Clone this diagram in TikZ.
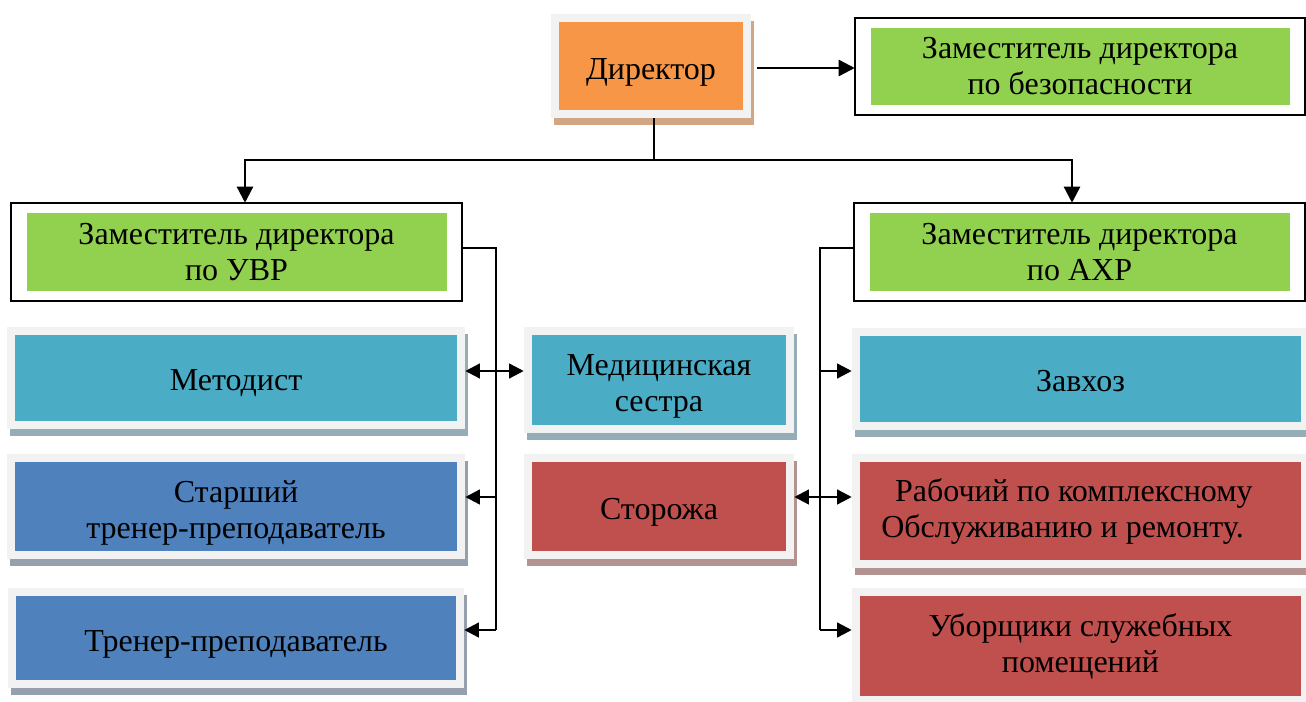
\documentclass[tikz,border=0pt]{standalone}
\usepackage{fontspec}
\setmainfont{Liberation Serif}
\usetikzlibrary{arrows.meta}
\definecolor{framegray}{HTML}{F2F2F2}
\definecolor{cOrange}{HTML}{F79646}
\definecolor{sOrange}{HTML}{D1A684}
\definecolor{cGreen}{HTML}{92D050}
\definecolor{cTeal}{HTML}{4BACC6}
\definecolor{sTeal}{HTML}{95ADB6}
\definecolor{cBlue}{HTML}{4F81BD}
\definecolor{sBlue}{HTML}{959FAE}
\definecolor{cRed}{HTML}{C0504D}
\definecolor{sRed}{HTML}{B39392}
\tikzset{
  boxtext/.style={inner sep=0pt, align=center, font=\fontsize{24}{27}\selectfont, text=black},
  boxarea/.style={inner sep=0pt, draw=none},
  conn/.style={line width=1.8pt, draw=black},
  arr/.style={conn, -{Triangle[length=11pt,width=11pt]}},
  arrboth/.style={conn, {Triangle[length=11pt,width=11pt]}-{Triangle[length=11pt,width=11pt]}},
  bigarr/.style={conn, -{Triangle[length=12pt,width=12pt]}},
  depframe/.style={draw=black, line width=1.3pt},
}
% name, x1, y1, x2, y2, fill, shadow, text-node options, text
\newcommand\orgbox[9]{%
  \fill[#7] (#2+3,#3+7) rectangle (#4+3,#5+7);
  \fill[framegray] (#2,#3) rectangle (#4,#5);
  \fill[#6] (#2+8,#3+8) rectangle (#4-8,#5-8);
  \node[boxarea, minimum width={(#4-#2)*0.75pt}, minimum height={(#5-#3)*0.75pt}] (#1) at ({(#2+#4)/2},{(#3+#5)/2}) {};
  \node[boxtext, #8] (#1-t) at (#1.center) {#9};}
\newcommand\depbox[6]{%
  \fill[cGreen] (#2+16,#3+10) rectangle (#4-15,#5-10);
  \draw[depframe] (#2,#3) rectangle (#4,#5);
  \node[boxarea, minimum width={(#4-#2)*0.75pt}, minimum height={(#5-#3)*0.75pt}] (#1) at ({(#2+#4)/2},{(#3+#5)/2}) {};
  \node[boxtext] (#1-t) at (#1.center) {#6};}
\begin{document}
\begin{tikzpicture}[x=0.75pt,y=-0.75pt]
\useasboundingbox (0,0) rectangle (1306,702);
\clip (0,0) rectangle (1306,702);
\fill[white] (0,0) rectangle (1306,702);

% director
\orgbox{dir}{551}{14}{751}{118}{cOrange}{sOrange}{yshift=-4.5pt}{Директор}

% deputies
\depbox{sec}{855}{18}{1305}{115}{Заместитель директора\\по безопасности}
\depbox{uvr}{11}{203}{462}{301}{Заместитель директора\\по УВР}
\depbox{ahr}{854}{203}{1305}{301}{Заместитель директора\\по АХР}

% left column
\orgbox{met}{7}{327}{465}{429}{cTeal}{sTeal}{yshift=-3.75pt}{Методист}
\orgbox{star}{7}{454}{465}{559}{cBlue}{sBlue}{yshift=-4.5pt}{Старший\\тренер-преподаватель}
\orgbox{tren}{8}{588}{464}{688}{cBlue}{sBlue}{yshift=-4.5pt}{Тренер-преподаватель}

% middle column
\orgbox{med}{524}{327}{794}{433}{cTeal}{sTeal}{yshift=-4.5pt}{Медицинская\\сестра}
\orgbox{stor}{524}{454}{794}{559}{cRed}{sRed}{yshift=-4.5pt}{Сторожа}

% right column
\orgbox{zav}{852}{328}{1309}{430}{cTeal}{sTeal}{yshift=-1.5pt}{Завхоз}
\orgbox{rab}{852}{454}{1309}{568}{cRed}{sRed}{xshift=-13.5pt}{\hspace*{17pt}Рабочий по комплексному\\Обслуживанию и ремонту.}
\orgbox{ub}{852}{588}{1309}{704}{cRed}{sRed}{}{Уборщики служебных\\помещений}

% connectors from director
\coordinate (j) at (654,160);
\coordinate (cL) at (245,160);
\coordinate (cR) at (1072,160);
\draw[conn] (j |- dir.south) -- (j);
\draw[bigarr] (j) -- (cL) -- (cL |- uvr.north);
\draw[bigarr] (j) -- (cR) -- (cR |- ahr.north);
\draw[bigarr] ([xshift=4.5pt,yshift=-1.5pt]dir.east) -- ([yshift=-1.5pt]dir.east -| sec.west);

% left bracket
\coordinate (L0) at (496,248);
\coordinate (L1) at (496,371);
\coordinate (L2) at (496,497);
\coordinate (L3) at (496,630);
\draw[conn] (uvr.east |- L0) -- (L0) -- (L3);
\draw[arr] (L2) -- (L2 -| star.east);
\draw[arr] (L3) -- (L3 -| tren.east);
\draw[arrboth] (L1 -| met.east) -- (L1 -| med.west);

% right bracket
\coordinate (R0) at (820,248);
\coordinate (R1) at (820,371);
\coordinate (R2) at (820,497);
\coordinate (R3) at (820,630);
\draw[conn] (ahr.west |- R0) -- (R0) -- (R3);
\draw[arr] (R1) -- (R1 -| zav.west);
\draw[arr] (R3) -- (R3 -| ub.west);
\draw[arrboth] (R2 -| stor.east) -- (R2 -| rab.west);
\end{tikzpicture}
\end{document}
